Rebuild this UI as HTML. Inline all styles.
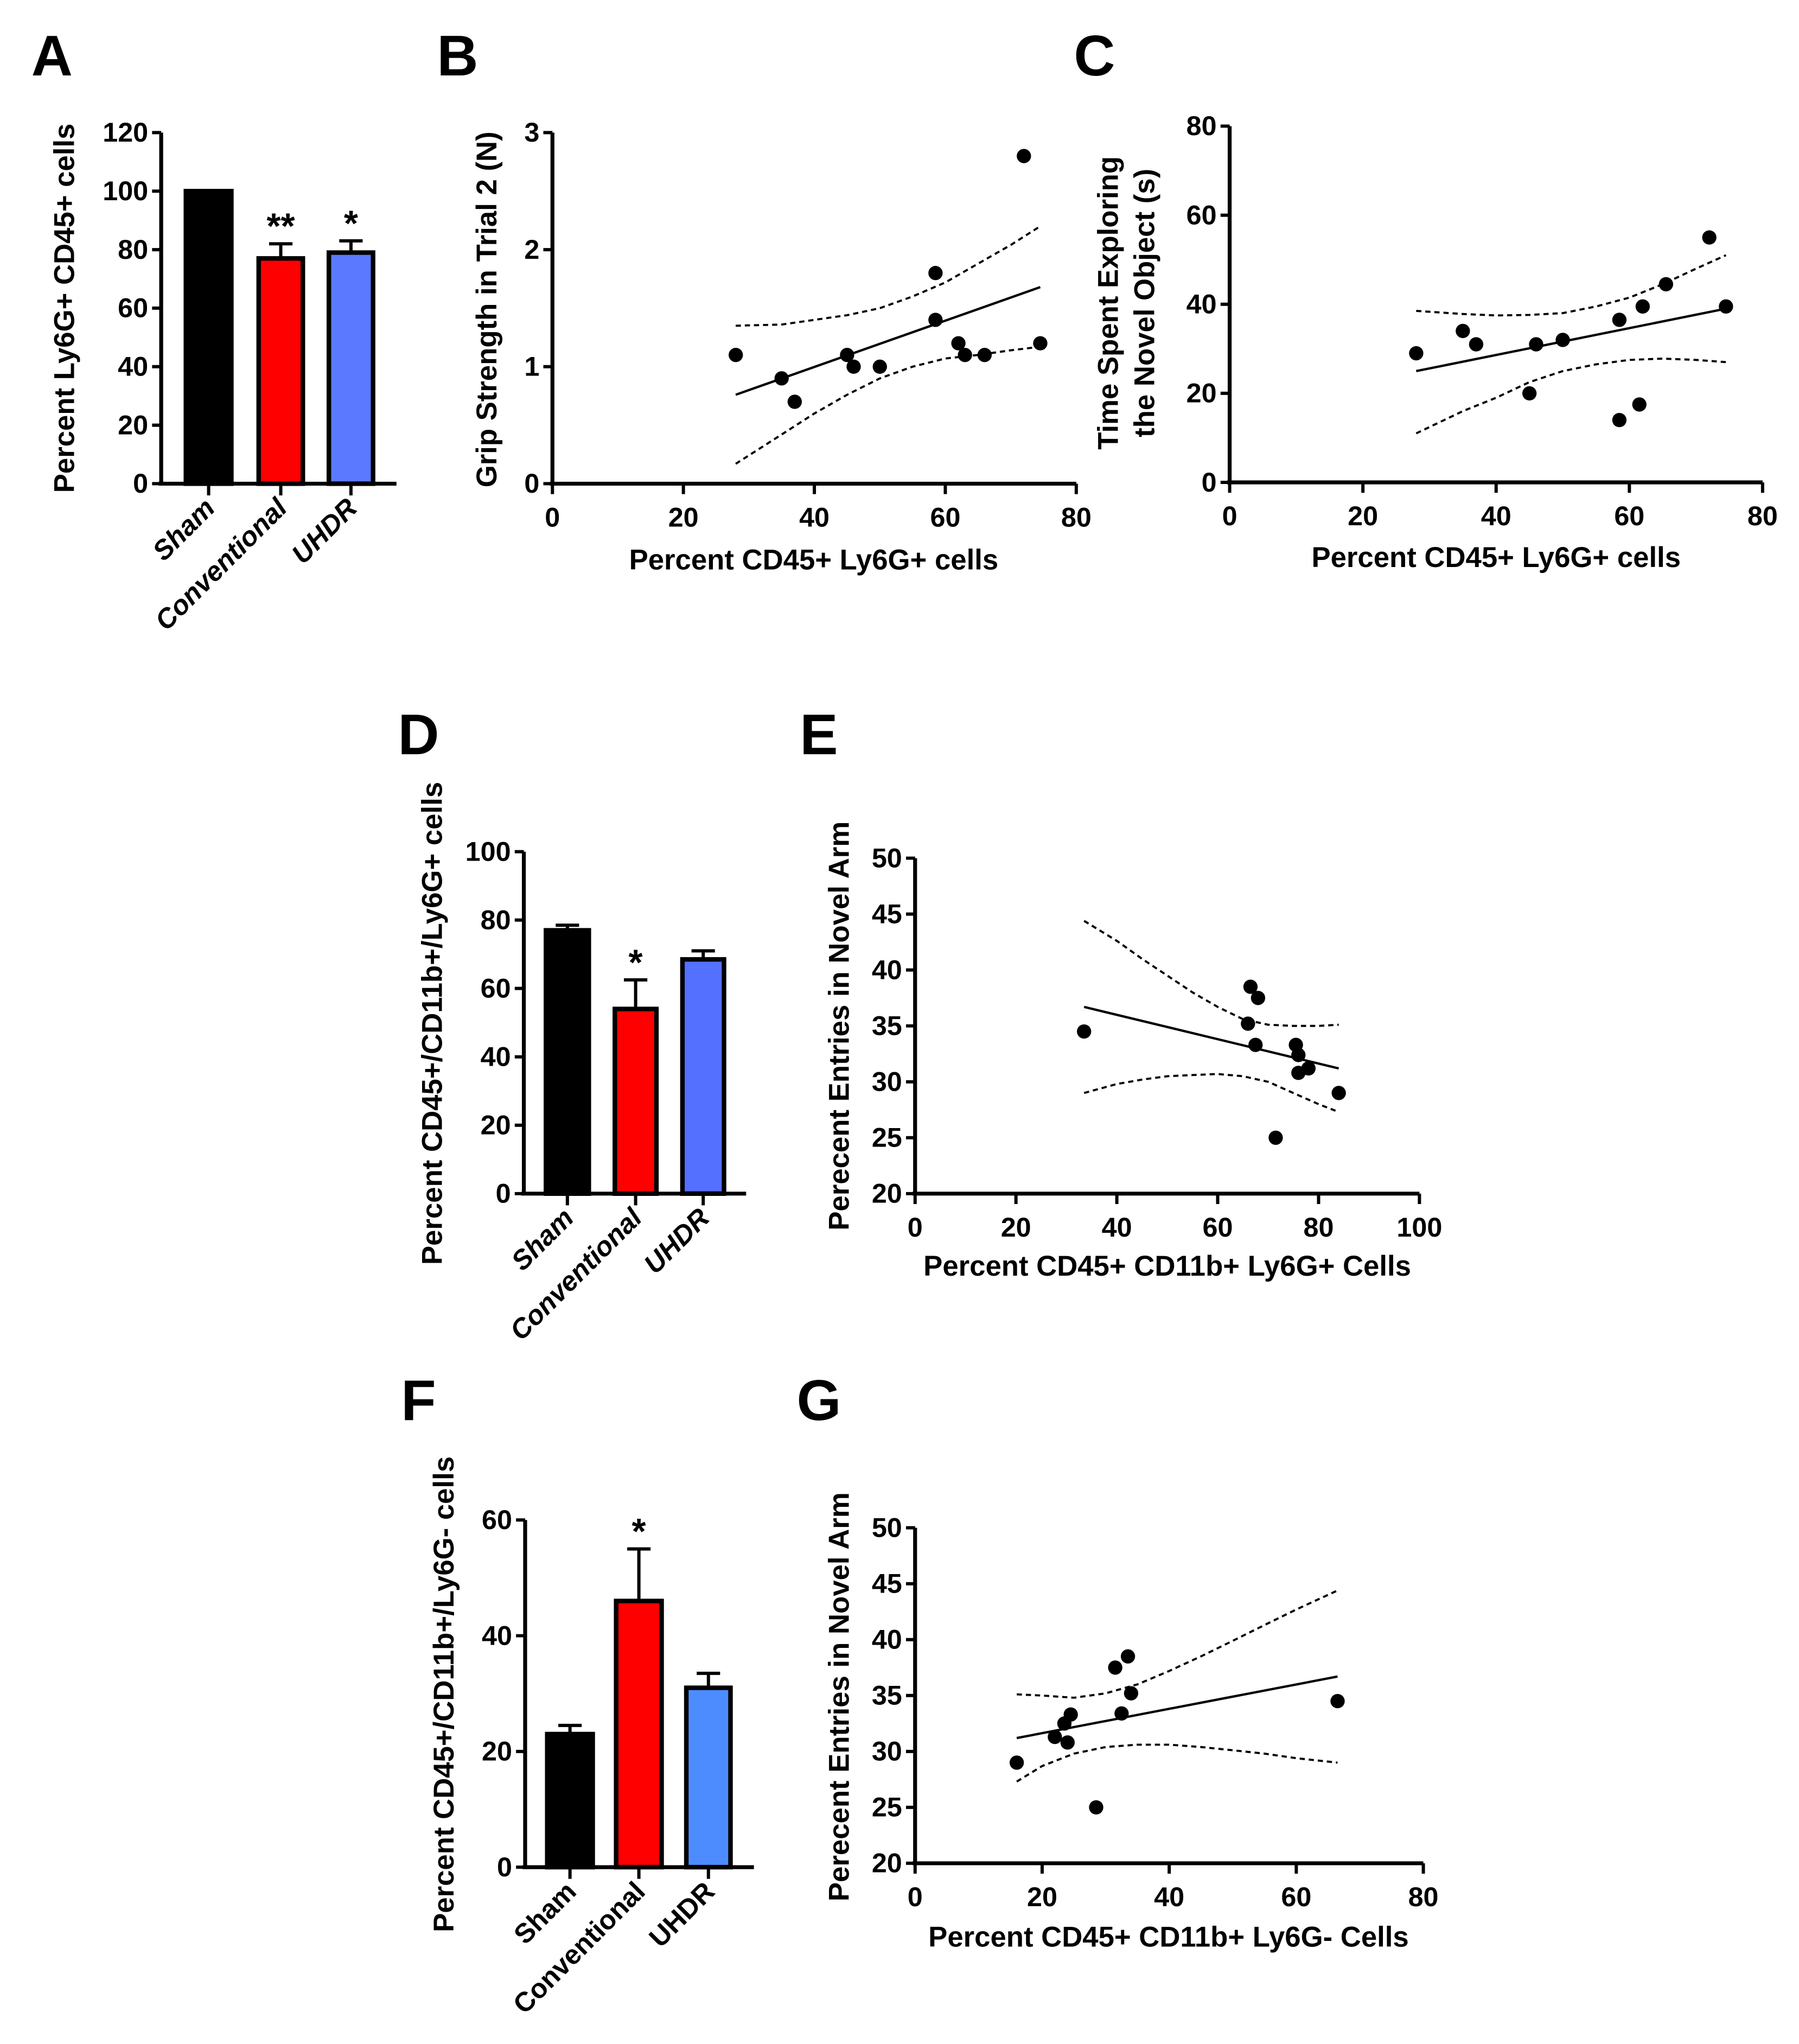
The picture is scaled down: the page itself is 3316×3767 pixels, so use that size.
<!DOCTYPE html>
<html><head><meta charset="utf-8"><style>
html,body{margin:0;padding:0;background:#fff}
svg{display:block}
text{font-family:"Liberation Sans Narrow","Liberation Sans",sans-serif;font-weight:bold;fill:#000}
</style></head><body>
<svg id="fig" xmlns="http://www.w3.org/2000/svg" width="3316" height="3767" viewBox="0 0 1384 1572" preserveAspectRatio="none"></svg>
<script>
// ---------- data ----------
const barCats = ["Sham","Conventional","UHDR"];
const aVals = [100,77,79];
const aErr = [100,82,83];
const aStars = ["","**","*"];
const dVals = [77,54,68.5];
const dErr = [78.5,62.5,71];
const dStars = ["","*",""];
const fVals = [23,46,31];
const fErr = [24.5,55,33.5];
const fStars = ["","*",""];

const bX = [28,35,37,45,46,50,58.5,58.5,62,63,66,72,74.5];
const bY = [1.1,0.9,0.7,1.1,1.0,1.0,1.8,1.4,1.2,1.1,1.1,2.8,1.2];
const bFitX = [28,74.5];
const bFitY = [0.76,1.68];
const bCiX = [28,35,40,45,50,55,60,65,70,74.5];
const bCiUp = [1.35,1.36,1.4,1.44,1.5,1.6,1.72,1.88,2.04,2.2];
const bCiLo = [0.17,0.42,0.6,0.76,0.9,1.0,1.07,1.1,1.14,1.17];

const cX = [28,35,37,45,46,50,58.5,58.5,62,61.5,65.5,72,74.5];
const cY = [29,34,31,20,31,32,36.5,14,39.5,17.5,44.5,55,39.5];
const cFitX = [28,74.5];
const cFitY = [25,39];
const cCiX = [28,35,40,45,50,55,60,65,70,74.5];
const cCiUp = [38.5,37.8,37.5,37.6,38,39.5,41.5,44.5,48,51];
const cCiLo = [11,16,19,22.5,25,26.5,27.5,27.8,27.5,27];

const eX = [33.5,66.5,68,66,67.5,75.5,76,76,78,84,71.5];
const eY = [34.5,38.5,37.5,35.2,33.3,33.3,32.4,30.8,31.2,29,25];
const eFitX = [33.5,84];
const eFitY = [36.7,31.2];
const eCiX = [33.5,40,45,50,55,60,65,70,75,80,84];
const eCiUp = [44.4,42.6,41,39.5,38,36.7,35.6,35.1,35,35,35.1];
const eCiLo = [29,29.8,30.2,30.5,30.6,30.7,30.5,30,29,28,27.3];

const gX = [16,22,23.5,24,24.5,31.5,33.5,34,32.5,28.5,66.5];
const gY = [29,31.3,32.5,30.8,33.3,37.5,38.5,35.2,33.4,25,34.5];
const gFitX = [16,66.5];
const gFitY = [31.2,36.7];
const gCiX = [16,20,25,30,35,40,45,50,55,60,66.5];
const gCiUp = [35.1,35,34.8,35.2,36,37.2,38.5,39.9,41.3,42.7,44.4];
const gCiLo = [27.3,28.7,29.8,30.4,30.6,30.6,30.4,30.1,29.8,29.4,29];

const aTicks=[0,20,40,60,80,100,120], bTicks=[0,1,2,3], bxTicks=[0,20,40,60,80];
const cTicks=[0,20,40,60,80], dTicks=[0,20,40,60,80,100], eTicks=[20,25,30,35,40,45,50];
const exTicks=[0,20,40,60,80,100], fTicks=[0,20,40,60], gxTicks=[0,20,40,60,80];

// ---------- helpers ----------
const NS="http://www.w3.org/2000/svg";
const svg=document.getElementById('fig');
function el(tag,attrs,parent){const e=document.createElementNS(NS,tag);for(const k in attrs)e.setAttribute(k,attrs[k]);(parent||svg).appendChild(e);return e;}
function txt(s,x,y,size,parent,extra){const t=el('text',Object.assign({x:x,y:y,'font-size':size},extra||{}),parent);t.textContent=s;return t;}
function lin(d0,d1,r0,r1){return v=>r0+(v-d0)*(r1-r0)/(d1-d0);}

function letter(s,x,y){const t=txt(s,x,y,44,svg,{'text-anchor':'middle','font-family':'Liberation Sans, sans-serif'});

}

function yAxis(g,x,sy,ticks,top,bottom){
  const a=el('line',{x1:x,y1:bottom,x2:x,y2:top,stroke:'#000','stroke-width':3},g);
  
  
  ticks.forEach(v=>{el('line',{x1:x-7,y1:sy(v),x2:x,y2:sy(v),stroke:'#000','stroke-width':2.5},g);
    const t=txt(String(v),x-10,sy(v)+7,21,g,{'text-anchor':'end'});
    
    });
}
function xAxis(g,y,sx,ticks,left,right){
  const a=el('line',{x1:left,y1:y,x2:right,y2:y,stroke:'#000','stroke-width':3},g);
  
  
  ticks.forEach(v=>{el('line',{x1:sx(v),y1:y,x2:sx(v),y2:y+8,stroke:'#000','stroke-width':2.5},g);
    const t=txt(String(v),sx(v),y+33,21,g,{'text-anchor':'middle'});
    
    });
}
function yLabel(g,lines,x,cy,size){
  lines.forEach((s,i)=>{const t=txt(s,x+i*28,cy,size||22,g,{'text-anchor':'middle',transform:'rotate(-90 '+(x+i*28)+' '+cy+')','font-family':'Liberation Sans, sans-serif'});
  
  });
}
function xLabel(g,s,cx,y){const t=txt(s,cx,y,22,g,{'text-anchor':'middle'});
  
  }

function barPanel(name,o){
  const g=el('g',{});
  
  
  const sy=lin(0,o.ticks[o.ticks.length-1],o.y0,o.yTop);
  o.vals.forEach((v,i)=>{
    const x0=o.bx[i][0],x1=o.bx[i][1],cx=(x0+x1)/2;
    if(o.err[i]>v){
      const e=el('line',{x1:cx,y1:sy(v),x2:cx,y2:sy(o.err[i]),stroke:'#000','stroke-width':2.5},g);
      
      
      el('line',{x1:cx-9,y1:sy(o.err[i]),x2:cx+9,y2:sy(o.err[i]),stroke:'#000','stroke-width':2.5},g);
    }
    const r=el('rect',{x:x0,y:sy(v),width:x1-x0,height:o.y0-sy(v),fill:o.colors[i],stroke:'#000','stroke-width':3.5},g);
    
    
    if(o.stars[i]){const s=txt(o.stars[i],cx,sy(o.err[i])-4,28,g,{'text-anchor':'middle','font-family':'Liberation Sans, sans-serif'});
      
      }
    el('line',{x1:cx,y1:o.y0,x2:cx,y2:o.y0+9,stroke:'#000','stroke-width':2.5},g);
    const t=txt(barCats[i],cx+6,o.y0+20,21,g,{'text-anchor':'end','font-style':o.italic?'italic':'normal',transform:'rotate(-45 '+(cx+6)+' '+(o.y0+20)+')','font-family':'Liberation Sans, sans-serif'});
    
    
  });
  yAxis(g,o.ax,sy,o.ticks,o.yTop,o.y0);
  el('line',{x1:o.ax-2,y1:o.y0,x2:o.xEnd,y2:o.y0,stroke:'#000','stroke-width':3},g);
  yLabel(g,[o.label],o.labX,o.labY,o.labSize||22);
}

function scatterPanel(name,o){
  const g=el('g',{});
  
  
  const sx=lin(o.xd[0],o.xd[1],o.xr[0],o.xr[1]);
  const sy=lin(o.yd[0],o.yd[1],o.yr[0],o.yr[1]);
  const path=(xs,ys)=>xs.map((x,i)=>(i?'L':'M')+sx(x).toFixed(1)+' '+sy(ys[i]).toFixed(1)).join(' ');
  const up=el('path',{d:path(o.ciX,o.ciUp),fill:'none',stroke:'#000','stroke-width':1.6,'stroke-dasharray':'4 3'},g);
  
  
  const lo=el('path',{d:path(o.ciX,o.ciLo),fill:'none',stroke:'#000','stroke-width':1.6,'stroke-dasharray':'4 3'},g);
  
  
  const fit=el('path',{d:path(o.fitX,o.fitY),fill:'none',stroke:'#000','stroke-width':1.8},g);
  
  
  o.px.forEach((x,i)=>{const c=el('circle',{cx:sx(x),cy:sy(o.py[i]),r:5.5,fill:'#000'},g);
    
    });
  yAxis(g,o.xr[0],sy,o.yt,o.yr[1],o.yr[0]);
  xAxis(g,o.yr[0],sx,o.xt,o.xr[0]-2,o.xr[1]);
  yLabel(g,o.ylab,o.ylx,o.yly,22);
  xLabel(g,o.xlab,o.xlx,o.xly);
}

// ---------- panels ----------
letter('A',40,58); letter('B',352,58); letter('C',842,58);
letter('D',322,580); letter('E',630,580); letter('F',322,1092); letter('G',630,1092);

barPanel('panel-a-bar-chart',{vals:aVals,err:aErr,stars:aStars,ticks:aTicks,y0:372,yTop:102,ax:124,xEnd:305,italic:true,
  bx:[[143,178],[199,233],[253,287]],colors:['#000','#ff0000','#5b79ff'],label:'Percent Ly6G+ CD45+ cells',labX:57,labY:237});
barPanel('panel-d-bar-chart',{vals:dVals,err:dErr,stars:dStars,ticks:dTicks,y0:918,yTop:655,ax:403,xEnd:574,italic:true,
  bx:[[420,453],[473,505],[525,557]],colors:['#000','#ff0000','#5470ff'],label:'Percent CD45+/CD11b+/Ly6G+ cells',labX:340,labY:787});
barPanel('panel-f-bar-chart',{vals:fVals,err:fErr,stars:fStars,ticks:fTicks,y0:1436,yTop:1169,ax:404,xEnd:580,italic:false,
  bx:[[421,456],[474,509],[528,562]],colors:['#000','#ff0000','#4d8cff'],label:'Percent CD45+/CD11b+/Ly6G- cells',labX:349,labY:1303});

scatterPanel('panel-b-scatter',{xd:[0,80],xr:[425,828],yd:[0,3],yr:[372,102],xt:bxTicks,yt:bTicks,
  px:bX,py:bY,fitX:bFitX,fitY:bFitY,ciX:bCiX,ciUp:bCiUp,ciLo:bCiLo,
  ylab:['Grip Strength in Trial 2 (N)'],ylx:382,yly:238,xlab:'Percent CD45+ Ly6G+ cells',xlx:626,xly:438});
scatterPanel('panel-c-scatter',{xd:[0,80],xr:[946,1356],yd:[0,80],yr:[371,97],xt:cTicks,yt:cTicks,
  px:cX,py:cY,fitX:cFitX,fitY:cFitY,ciX:cCiX,ciUp:cCiUp,ciLo:cCiLo,
  ylab:['Time Spent Exploring','the Novel Object (s)'],ylx:860,yly:233,xlab:'Percent CD45+ Ly6G+ cells',xlx:1151,xly:436});
scatterPanel('panel-e-scatter',{xd:[0,100],xr:[704,1092],yd:[20,50],yr:[918,660],xt:exTicks,yt:eTicks,
  px:eX,py:eY,fitX:eFitX,fitY:eFitY,ciX:eCiX,ciUp:eCiUp,ciLo:eCiLo,
  ylab:['Perecent Entries in Novel Arm'],ylx:653,yly:789,xlab:'Percent CD45+ CD11b+ Ly6G+ Cells',xlx:898,xly:981});
scatterPanel('panel-g-scatter',{xd:[0,80],xr:[704,1095],yd:[20,50],yr:[1433,1175],xt:gxTicks,yt:eTicks,
  px:gX,py:gY,fitX:gFitX,fitY:gFitY,ciX:gCiX,ciUp:gCiUp,ciLo:gCiLo,
  ylab:['Perecent Entries in Novel Arm'],ylx:653,yly:1305,xlab:'Percent CD45+ CD11b+ Ly6G- Cells',xlx:899,xly:1497});
</script>
</body></html>
